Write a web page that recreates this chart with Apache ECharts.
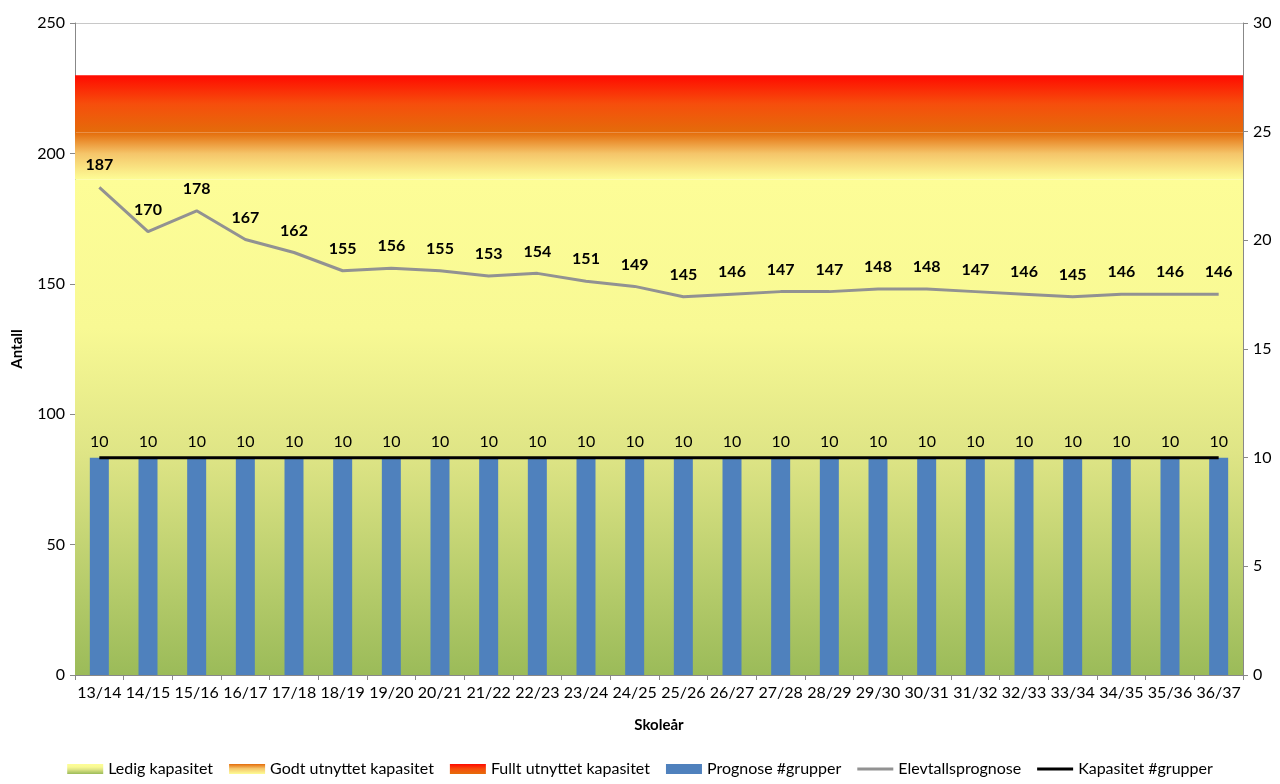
<!DOCTYPE html>
<html>
<head>
<meta charset="utf-8">
<script src="https://cdn.jsdelivr.net/npm/echarts@6/dist/echarts.min.js"></script>
<style>
  html, body { margin: 0; padding: 0; background: #fff; }
  #chart { width: 1280px; height: 784px; }
</style>
</head>
<body>
<div id="chart"></div>
<script>
// skoleår
const years = ['13/14', '14/15', '15/16', '16/17', '17/18', '18/19', '19/20', '20/21', '21/22', '22/23', '23/24', '24/25',
  '25/26', '26/27', '27/28', '28/29', '29/30', '30/31', '31/32', '32/33', '33/34', '34/35', '35/36', '36/37'];
// elevtallsprognose (venstre akse)
const elevtall = [187, 170, 178, 167, 162, 155, 156, 155, 153, 154, 151, 149, 145, 146, 147, 147, 148, 148, 147, 146, 145, 146, 146, 146];
// grupper (høyre akse)
const prognoseGrupper = [10, 10, 10, 10, 10, 10, 10, 10, 10, 10, 10, 10, 10, 10, 10, 10, 10, 10, 10, 10, 10, 10, 10, 10];
const kapasitetGrupper = [10, 10, 10, 10, 10, 10, 10, 10, 10, 10, 10, 10, 10, 10, 10, 10, 10, 10, 10, 10, 10, 10, 10, 10];
// kapasitetsbånd, stablet (antall)
const ledig = [190];
const godt = [18];
const fullt = [22];

const font = 'Lato, "Open Sans", sans-serif';

const grad = (stops) => new echarts.graphic.LinearGradient(0, 0, 0, 1, stops);

const ledigColor = grad([
  { offset: 0, color: '#FDFD97' },
  { offset: 0.3, color: '#F8F994' },
  { offset: 0.55, color: '#DFE586' },
  { offset: 1, color: '#9BBB59' }
]);
const godtColor = grad([
  { offset: 0, color: '#E46C0A' },
  { offset: 0.45, color: '#F5C56A' },
  { offset: 1, color: '#FDFD96' }
]);
const fulltColor = grad([
  { offset: 0, color: '#FF0A00' },
  { offset: 0.5, color: '#F64E0C' },
  { offset: 1, color: '#E46C0A' }
]);

// strek-ikon for linjeseriene i legenden
const lineIcon = 'path://M0,0 L36,0 L36,3 L0,3 Z';

const chart = echarts.init(document.getElementById('chart'));

const option = {
  animation: false,
  textStyle: { fontFamily: font },
  grid: { left: 75, right: 37, top: 23, bottom: 109 },
  legend: {
    bottom: 2,
    left: 'center',
    itemWidth: 36,
    itemHeight: 10,
    itemGap: 16,
    textStyle: { fontSize: 16, color: '#000', fontFamily: font },
    data: [
      { name: 'Ledig kapasitet', icon: 'rect' },
      { name: 'Godt utnyttet kapasitet', icon: 'rect' },
      { name: 'Fullt utnyttet kapasitet', icon: 'rect' },
      { name: 'Prognose #grupper', icon: 'rect' },
      { name: 'Elevtallsprognose', icon: lineIcon, itemStyle: { color: '#929292' } },
      { name: 'Kapasitet #grupper', icon: lineIcon, itemStyle: { color: '#000' } }
    ]
  },
  xAxis: [
    {
      type: 'category',
      data: years,
      name: 'Skoleår',
      nameLocation: 'middle',
      nameGap: 43,
      nameTextStyle: { fontWeight: 'bold', fontSize: 15, color: '#000' },
      axisLine: { lineStyle: { color: '#888' } },
      axisTick: { show: true, length: 5, lineStyle: { color: '#888' } },
      axisLabel: { fontSize: 16, color: '#000', margin: 10, interval: 0 }
    },
    {
      type: 'category',
      data: [''],
      show: false
    }
  ],
  yAxis: [
    {
      type: 'value',
      min: 0,
      max: 250,
      interval: 50,
      name: 'Antall',
      nameLocation: 'middle',
      nameGap: 50,
      nameTextStyle: { fontWeight: 'bold', fontSize: 15, color: '#000' },
      axisLine: { show: true, lineStyle: { color: '#888' } },
      axisTick: { show: true, length: 5, lineStyle: { color: '#888' } },
      axisLabel: { fontSize: 16, color: '#000', margin: 10 },
      splitLine: { show: true, lineStyle: { color: '#C8C8C8' } }
    },
    {
      type: 'value',
      min: 0,
      max: 30,
      interval: 5,
      position: 'right',
      axisLine: { show: true, lineStyle: { color: '#888' } },
      axisTick: { show: true, length: 5, lineStyle: { color: '#888' } },
      axisLabel: { fontSize: 16, color: '#000', margin: 10 },
      splitLine: { show: false }
    }
  ],
  series: [
    {
      name: 'Ledig kapasitet',
      type: 'bar',
      xAxisIndex: 1,
      yAxisIndex: 0,
      stack: 'band',
      barWidth: '100%',
      z: 1,
      silent: true,
      itemStyle: { color: ledigColor },
      data: ledig
    },
    {
      name: 'Godt utnyttet kapasitet',
      type: 'bar',
      xAxisIndex: 1,
      yAxisIndex: 0,
      stack: 'band',
      barWidth: '100%',
      z: 1,
      silent: true,
      itemStyle: { color: godtColor },
      data: godt
    },
    {
      name: 'Fullt utnyttet kapasitet',
      type: 'bar',
      xAxisIndex: 1,
      yAxisIndex: 0,
      stack: 'band',
      barWidth: '100%',
      z: 1,
      silent: true,
      itemStyle: { color: fulltColor },
      data: fullt
    },
    {
      name: 'Prognose #grupper',
      type: 'bar',
      xAxisIndex: 0,
      yAxisIndex: 1,
      barWidth: 19,
      z: 3,
      itemStyle: { color: '#4F81BD' },
      label: { show: true, position: 'top', distance: 8, fontSize: 16, color: '#000' },
      data: prognoseGrupper
    },
    {
      name: 'Elevtallsprognose',
      type: 'line',
      xAxisIndex: 0,
      yAxisIndex: 0,
      symbol: 'circle',
      symbolSize: 0,
      showSymbol: true,
      z: 4,
      lineStyle: { color: '#929292', width: 3 },
      itemStyle: { color: '#929292' },
      label: { show: true, position: 'top', distance: 14, fontSize: 16, fontWeight: 'bold', color: '#000' },
      data: elevtall
    },
    {
      name: 'Kapasitet #grupper',
      type: 'line',
      xAxisIndex: 0,
      yAxisIndex: 1,
      symbol: 'none',
      z: 5,
      lineStyle: { color: '#000', width: 3 },
      itemStyle: { color: '#000' },
      data: kapasitetGrupper
    }
  ]
};

chart.setOption(option);
</script>
</body>
</html>
